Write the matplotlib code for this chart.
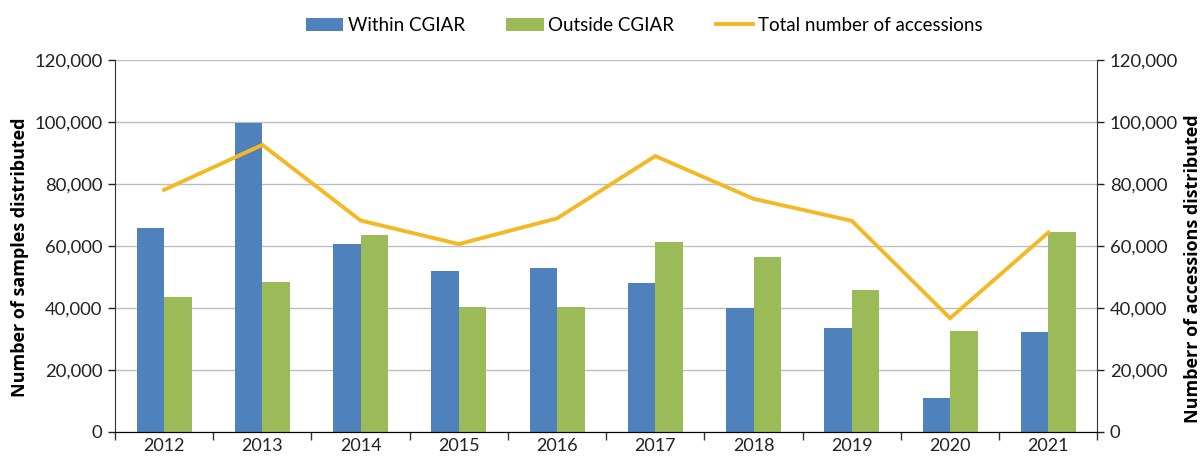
import matplotlib.pyplot as plt
import numpy as np
from matplotlib.ticker import FuncFormatter

years = ['2012', '2013', '2014', '2015', '2016', '2017', '2018', '2019', '2020', '2021']
within_cgiar = [65700, 99800, 60600, 52000, 53000, 48000, 40100, 33600, 10900, 32200]
outside_cgiar = [43600, 48500, 63400, 40400, 40400, 61400, 56500, 45900, 32500, 64400]
total_accessions = [78100, 92600, 68200, 60600, 68900, 89000, 75200, 68100, 36700, 64300]

plt.rcParams['font.family'] = ['Lato', 'DejaVu Sans']

blue = '#4f81bd'
green = '#9bbb59'
yellow = '#f4b824'

fig = plt.figure(figsize=(12.04, 4.61), dpi=100)
ax = fig.add_axes([0.0955, 0.063, 0.816, 0.807])
x = np.arange(len(years))
w = 0.28

ax.bar(x - w / 2, within_cgiar, w, color=blue, label='Within CGIAR', zorder=2)
ax.bar(x + w / 2, outside_cgiar, w, color=green, label='Outside CGIAR', zorder=2)

ax2 = ax.twinx()
ax2.plot(x, total_accessions, color=yellow, lw=2.8, label='Total number of accessions',
         solid_joinstyle='miter')

fmt = FuncFormatter(lambda v, p: f'{int(v):,}')
for a in (ax, ax2):
    a.set_ylim(0, 120000)
    a.set_yticks(np.arange(0, 120001, 20000))
    a.yaxis.set_major_formatter(fmt)
    a.set_xlim(-0.5, len(years) - 0.5)
    a.spines['top'].set_visible(False)
    a.tick_params(axis='y', labelsize=13.3, colors='#222222', length=5, width=1, pad=4)

ax.grid(axis='y', color='#bdbdbd', lw=1, zorder=0)
ax.set_axisbelow(True)
ax.spines['right'].set_visible(False)
ax2.spines['left'].set_visible(False)
ax2.spines['right'].set_color('#333333')
ax.spines['left'].set_color('#333333')
ax.spines['bottom'].set_color('#333333')

ax.set_xticks(x)
ax.set_xticklabels(years)
ax.tick_params(axis='x', length=0, labelsize=13, colors='#222222', pad=4)
ax.set_xticks(np.arange(-0.5, len(years), 1), minor=True)
ax.tick_params(axis='x', which='minor', length=6, width=1, color='#333333')

lab = dict(fontsize=13, fontweight='bold', family=['Open Sans', 'DejaVu Sans'])
ax.set_ylabel('Number of samples distributed', **lab)
ax.yaxis.set_label_coords(-0.088, 0.47)
ax2.set_ylabel('Numberr of accessions distributed', **lab)
ax2.yaxis.set_label_coords(1.088, 0.44)

h1, l1 = ax.get_legend_handles_labels()
h2, l2 = ax2.get_legend_handles_labels()
fig.legend(h1 + h2, l1 + l2, loc='upper center', bbox_to_anchor=(0.535, 1.0), ncol=3,
           frameon=False, fontsize=13.5, handlelength=2.0, handleheight=0.7,
           columnspacing=2.2, handletextpad=0.25)

fig.savefig('out.png', dpi=100)
